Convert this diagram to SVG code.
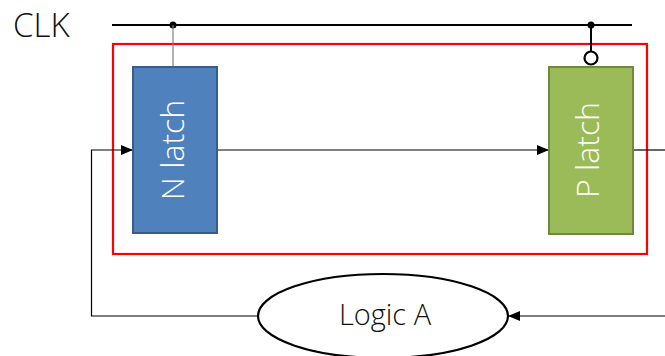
<svg xmlns="http://www.w3.org/2000/svg" width="665" height="356" viewBox="0 0 665 356">
  <defs>
    <marker id="arrow" markerWidth="12" markerHeight="10" refX="12" refY="5" orient="auto" markerUnits="userSpaceOnUse">
      <path d="M0,0 L12,5 L0,10 Z" fill="#000"/>
    </marker>
    <style>
      .lbl { font-family: "Open Sans", "DejaVu Sans", sans-serif; font-weight: 300; }
      .wire { stroke: #000; stroke-width: 1.2; fill: none; }
      .clk { stroke: #000; stroke-width: 2; fill: none; }
    </style>
  </defs>
  <rect width="665" height="356" fill="#fff"/>

  <!-- clock label and rail -->
  <g id="clk">
    <text class="lbl" x="13" y="37" font-size="33" fill="#111">CLK</text>
    <line class="clk" x1="112" y1="25" x2="632" y2="25"/>
    <circle cx="173" cy="25" r="3.5" fill="#000"/>
    <circle cx="591" cy="25" r="3.5" fill="#000"/>
  </g>

  <!-- latch pair enclosure -->
  <g id="enclosure">
    <rect x="113" y="44" width="534" height="210" fill="none" stroke="#ff0000" stroke-width="2.2"/>
  </g>

  <g id="connectors">
    <!-- clock taps -->
    <line x1="173" y1="25" x2="173" y2="67" stroke="#7f7f7f" stroke-width="1.2"/>
    <line class="clk" x1="591" y1="25" x2="591" y2="51"/>
    <circle cx="591" cy="58" r="6.5" fill="#fff" stroke="#000" stroke-width="2.2"/>
    <!-- data path -->
    <line class="wire" x1="217" y1="150" x2="549" y2="150" marker-end="url(#arrow)"/>
    <line class="wire" x1="633" y1="150" x2="665" y2="150"/>
    <!-- feedback through logic -->
    <line class="wire" x1="665" y1="316" x2="508" y2="316" marker-end="url(#arrow)"/>
    <polyline class="wire" points="258,316 91.5,316 91.5,150 133,150" marker-end="url(#arrow)"/>
  </g>

  <g id="n-latch">
    <rect x="133" y="67" width="84" height="166" fill="#4f81bd" stroke="#385d8a" stroke-width="2"/>
    <text class="lbl" x="0" y="0" font-size="32" fill="#fff" text-anchor="middle" transform="translate(184,150) rotate(-90)">N latch</text>
  </g>

  <g id="p-latch">
    <rect x="549" y="67" width="84" height="167" fill="#9bbb59" stroke="#71893f" stroke-width="2"/>
    <text class="lbl" x="0" y="0" font-size="32" fill="#fff" text-anchor="middle" transform="translate(599,150) rotate(-90)">P latch</text>
  </g>

  <g id="logic-a">
    <ellipse cx="383" cy="316" rx="125" ry="42" fill="#fff" stroke="#000" stroke-width="2.2"/>
    <text class="lbl" x="385" y="325" font-size="29" fill="#111" text-anchor="middle">Logic A</text>
  </g>
</svg>
